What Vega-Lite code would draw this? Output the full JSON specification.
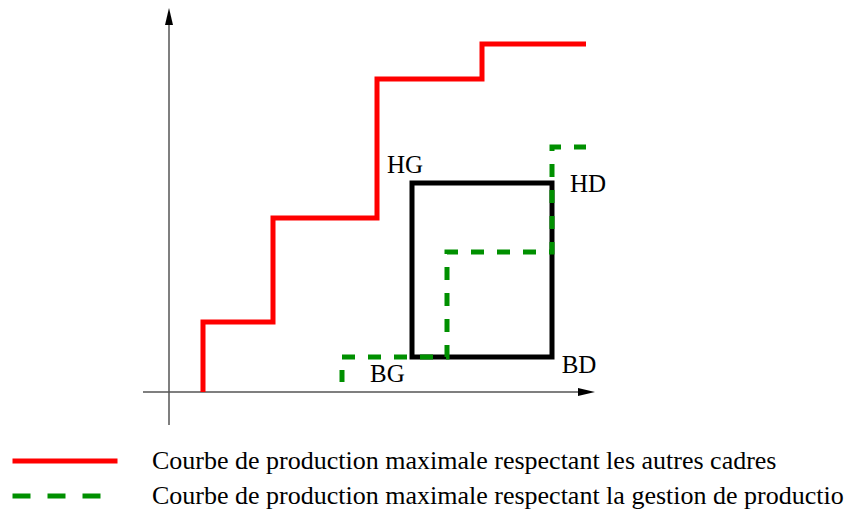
{
  "$schema": "https://vega.github.io/schema/vega-lite/v6.json",
  "width": 844,
  "height": 512,
  "autosize": "none",
  "padding": 0,
  "background": "white",
  "config": {
    "view": {"stroke": null},
    "legend": {
      "orient": "none",
      "padding": 0,
      "symbolType": "stroke",
      "symbolSize": 11025,
      "symbolStrokeWidth": 5,
      "symbolOffset": 0,
      "labelFont": "Liberation Serif",
      "labelFontSize": 26,
      "labelColor": "black",
      "labelLimit": 2000,
      "labelOffset": 32,
      "clipHeight": 35,
      "rowPadding": 0
    }
  },
  "layer": [
    {
      "data": {"values": [
        {"x1": 0, "y1": -33, "x2": 0, "y2": 372},
        {"x1": -26, "y1": 0, "x2": 416, "y2": 0}
      ]},
      "mark": {"type": "rule", "color": "#555555", "strokeWidth": 1.5},
      "encoding": {
        "x": {"field": "x1", "type": "quantitative", "scale": {"domain": [-169, 675], "nice": false, "zero": false}, "axis": null},
        "y": {"field": "y1", "type": "quantitative", "scale": {"domain": [-120, 392], "nice": false, "zero": false}, "axis": null},
        "x2": {"field": "x2"},
        "y2": {"field": "y2"}
      }
    },
    {
      "data": {"values": [{"x": 0, "y": 375.5}]},
      "mark": {"type": "point", "filled": true, "color": "black", "opacity": 1, "size": 289, "shape": "M0,-1L0.47,1L-0.47,1Z"},
      "encoding": {
        "x": {"field": "x", "type": "quantitative", "axis": null},
        "y": {"field": "y", "type": "quantitative", "axis": null}
      }
    },
    {
      "data": {"values": [{"x": 417.5, "y": 0}]},
      "mark": {"type": "point", "filled": true, "color": "black", "opacity": 1, "size": 289, "shape": "M1,0L-1,0.47L-1,-0.47Z"},
      "encoding": {
        "x": {"field": "x", "type": "quantitative", "axis": null},
        "y": {"field": "y", "type": "quantitative", "axis": null}
      }
    },
    {
      "data": {"values": [{"x1": 243, "x2": 383, "y1": 35, "y2": 209}]},
      "mark": {"type": "rect", "filled": false, "stroke": "black", "strokeWidth": 5},
      "encoding": {
        "x": {"field": "x1", "type": "quantitative", "axis": null},
        "x2": {"field": "x2"},
        "y": {"field": "y1", "type": "quantitative", "axis": null},
        "y2": {"field": "y2"}
      }
    },
    {
      "data": {"values": [
        {"serie": "Courbe de production maximale respectant les autres cadres", "i": 0, "x": 34, "y": 0},
        {"serie": "Courbe de production maximale respectant les autres cadres", "i": 1, "x": 34, "y": 70},
        {"serie": "Courbe de production maximale respectant les autres cadres", "i": 2, "x": 104, "y": 70},
        {"serie": "Courbe de production maximale respectant les autres cadres", "i": 3, "x": 104, "y": 174},
        {"serie": "Courbe de production maximale respectant les autres cadres", "i": 4, "x": 208, "y": 174},
        {"serie": "Courbe de production maximale respectant les autres cadres", "i": 5, "x": 208, "y": 313},
        {"serie": "Courbe de production maximale respectant les autres cadres", "i": 6, "x": 313, "y": 313},
        {"serie": "Courbe de production maximale respectant les autres cadres", "i": 7, "x": 313, "y": 348},
        {"serie": "Courbe de production maximale respectant les autres cadres", "i": 8, "x": 417, "y": 348}
      ]},
      "mark": {"type": "line", "strokeWidth": 5, "strokeJoin": "miter", "strokeCap": "butt"},
      "encoding": {
        "x": {"field": "x", "type": "quantitative", "axis": null},
        "y": {"field": "y", "type": "quantitative", "axis": null},
        "order": {"field": "i", "type": "quantitative"},
        "color": {
          "field": "serie",
          "type": "nominal",
          "scale": {"range": ["#ff0000"]},
          "legend": {"title": null, "legendX": 10, "legendY": 443.5}
        }
      }
    },
    {
      "data": {"values": [
        {"serie": "Courbe de production maximale respectant la gestion de production", "i": 0, "x": 173, "y": 10},
        {"serie": "Courbe de production maximale respectant la gestion de production", "i": 1, "x": 173, "y": 35},
        {"serie": "Courbe de production maximale respectant la gestion de production", "i": 2, "x": 278, "y": 35},
        {"serie": "Courbe de production maximale respectant la gestion de production", "i": 3, "x": 278, "y": 140},
        {"serie": "Courbe de production maximale respectant la gestion de production", "i": 4, "x": 383, "y": 140},
        {"serie": "Courbe de production maximale respectant la gestion de production", "i": 5, "x": 383, "y": 245},
        {"serie": "Courbe de production maximale respectant la gestion de production", "i": 6, "x": 417, "y": 245}
      ]},
      "mark": {"type": "line", "strokeWidth": 5, "strokeJoin": "miter", "strokeCap": "butt", "strokeDash": [13, 13], "strokeDashOffset": 1},
      "encoding": {
        "x": {"field": "x", "type": "quantitative", "axis": null},
        "y": {"field": "y", "type": "quantitative", "axis": null},
        "order": {"field": "i", "type": "quantitative"},
        "stroke": {
          "field": "serie",
          "type": "nominal",
          "scale": {"range": ["#009000"]},
          "legend": {"title": null, "legendX": 10, "legendY": 478.5, "symbolDash": [18, 17, 18, 17, 18, 60], "symbolDashOffset": 0}
        }
      }
    },
    {
      "data": {"values": [
        {"t": "HG", "x": 218, "y": 218.7},
        {"t": "HD", "x": 401, "y": 200.3},
        {"t": "BD", "x": 392.7, "y": 19.3},
        {"t": "BG", "x": 201, "y": 10.3}
      ]},
      "mark": {"type": "text", "font": "Liberation Serif", "fontSize": 25, "align": "left", "baseline": "alphabetic", "color": "black"},
      "encoding": {
        "x": {"field": "x", "type": "quantitative", "axis": null},
        "y": {"field": "y", "type": "quantitative", "axis": null},
        "text": {"field": "t"}
      }
    }
  ]
}
